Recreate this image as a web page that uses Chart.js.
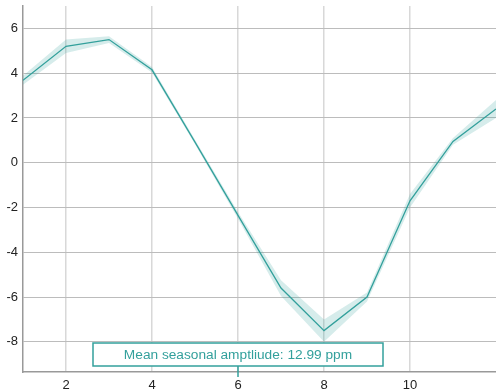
<!DOCTYPE html>
<html>
<head>
<meta charset="utf-8">
<script src="https://cdn.jsdelivr.net/npm/chart.js@4"></script>
<style>
  html, body { margin: 0; padding: 0; background: #fff; }
  #wrap { width: 496px; height: 392px; }
</style>
</head>
<body>
<div id="wrap"><canvas id="chart" width="496" height="392"></canvas></div>
<script>
// monthly mean anomaly (ppm) and its spread
const months = [1, 2, 3, 4, 5, 6, 7, 8, 9, 10, 11, 12];
const meanValues = [3.68, 5.2, 5.5, 4.15, 0.92, -2.35, -5.6, -7.5, -6.0, -1.7, 0.95, 2.4];
const spread = [0.2, 0.3, 0.15, 0.12, 0.1, 0.15, 0.35, 0.5, 0.2, 0.3, 0.15, 0.4];
const xTicks = [2, 4, 6, 8, 10];
const yTicks = [-8, -6, -4, -2, 0, 2, 4, 6];
const annotationText = 'Mean seasonal amptliude: 12.99 ppm';
const annotationMonth = 6;

const teal = '#33a09c';
const band = 'rgba(51, 160, 156, 0.2)';

const upper = months.map((m, i) => ({ x: m, y: meanValues[i] + spread[i] }));
const lower = months.map((m, i) => ({ x: m, y: meanValues[i] - spread[i] }));
const mean = months.map((m, i) => ({ x: m, y: meanValues[i] }));

const annotationBox = {
    id: 'annotationBox',
    afterDraw(chart) {
        const ctx = chart.ctx;
        const area = chart.chartArea;
        const cx = chart.scales.x.getPixelForValue(annotationMonth);
        const w = 290, h = 23;
        const top = area.bottom - 29;
        ctx.save();
        ctx.strokeStyle = teal;
        ctx.lineWidth = 1.5;
        ctx.beginPath();
        ctx.moveTo(cx, top + h);
        ctx.lineTo(cx, area.bottom + 5);
        ctx.stroke();
        ctx.fillStyle = '#fff';
        ctx.fillRect(cx - w / 2, top, w, h);
        ctx.strokeRect(cx - w / 2, top, w, h);
        ctx.fillStyle = teal;
        ctx.font = '13.7px "Liberation Sans", Arial, sans-serif';
        ctx.textAlign = 'center';
        ctx.textBaseline = 'middle';
        ctx.fillText(annotationText, cx, top + h / 2 + 1);
        ctx.restore();
    }
};

new Chart(document.getElementById('chart'), {
    type: 'line',
    data: {
        datasets: [
            { data: upper, borderWidth: 0, pointRadius: 0, backgroundColor: band, fill: '+1' },
            { data: lower, borderWidth: 0, pointRadius: 0, fill: false },
            { data: mean, borderColor: teal, borderWidth: 1.3, pointRadius: 0, fill: false }
        ]
    },
    options: {
        responsive: false,
        animation: false,
        layout: { padding: { top: 6, left: 0, right: 0, bottom: 0 } },
        plugins: { legend: { display: false }, tooltip: { enabled: false } },
        scales: {
            x: {
                type: 'linear',
                min: 1,
                max: 12,
                afterBuildTicks: s => { s.ticks = xTicks.map(v => ({ value: v })); },
                afterFit: s => { s.height = 20; s.paddingLeft = 0; s.paddingRight = 0; },
                grid: { color: '#d8d8d8', lineWidth: 1.5, drawTicks: false },
                border: { color: '#999', width: 1.5 },
                ticks: { padding: 6, color: '#222', font: { family: '"Liberation Sans", Arial', size: 13 }, maxRotation: 0 }
            },
            y: {
                min: -9.35,
                max: 7.0,
                afterBuildTicks: s => { s.ticks = yTicks.map(v => ({ value: v })); },
                afterFit: s => { s.width = 23; s.paddingTop = 0; s.paddingBottom = 0; },
                grid: { color: '#bcbcbc', lineWidth: 1, drawTicks: false },
                border: { color: '#999', width: 1.5 },
                ticks: { padding: 5, color: '#222', font: { family: '"Liberation Sans", Arial', size: 13 } }
            }
        }
    },
    plugins: [annotationBox]
});
</script>
</body>
</html>
